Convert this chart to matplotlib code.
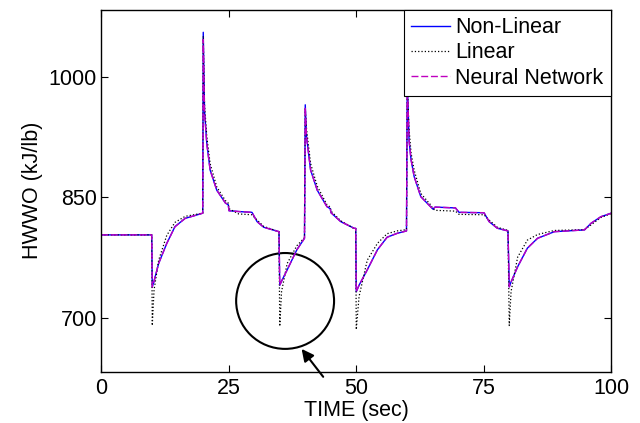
import numpy as np
import matplotlib
matplotlib.use('Agg')
import matplotlib.pyplot as plt
from matplotlib.patches import Ellipse

plt.rcParams['font.family'] = ['Liberation Sans', 'DejaVu Sans']

# time (sec)
time = [0, 9.95, 10.05, 10.4, 11.3, 12.9, 14.5, 16.5, 19.45, 19.95,
        20.05, 20.3, 20.75, 21.4, 22.7, 24.4, 24.95, 25.1, 27, 29.6, 30.6, 31.9, 34.9,
        35.05, 35.4, 36.5, 38.4, 39.9,
        40.05, 40.3, 41.1, 42.4, 44.3, 44.95, 45.1, 47, 49.6, 49.95,
        50.05, 50.6, 52.2, 54.2, 56.1, 58.1, 59.9,
        60.05, 60.4, 60.8, 61.4, 62.7, 64.6, 65.1, 65.5, 69.5, 70.2, 75.1, 76.1, 77.7, 79.8,
        80.05, 80.4, 81.7, 83.6, 85.6, 88.9, 94.8, 96.1, 98, 100]

nonlinear = [803.5, 803.5, 739, 746, 768, 793, 813.8, 824, 829.5, 830.5,
             1055, 957, 917, 884, 859, 843, 841, 833.5, 832.5, 831.5, 820, 813, 807.5,
             741, 746, 760, 785, 799.3,
             965, 925.5, 884, 859, 838.6, 836, 831, 820, 811.8, 811.5,
             733, 741, 760, 785, 800.6, 805.5, 808.4,
             998, 921, 896.6, 876, 851, 838.6, 835.4, 838, 837, 831.5, 831, 820, 811.8, 808.4,
             739, 745, 764, 787, 799.3, 807.5, 809.7, 818, 826, 830.4]

linear = [803.5, 803.5, 691, 735, 772, 803, 819, 826.5, 830, 830.5,
          1050, 965, 925, 892, 863, 846, 843, 836, 829.5, 828.5, 822, 814, 807.5,
          690, 733, 768, 790, 800,
          960, 935, 892, 864, 841, 838, 833, 821, 811.5, 811.5,
          686, 727, 772, 793, 805, 808.5, 810,
          990, 935, 905, 884, 855, 841, 836, 834, 833, 829, 828.5, 822, 813, 809,
          691, 733, 776, 797, 804, 809, 810, 816, 825, 830]

neural = [803.5, 803.5, 739, 746, 768, 793, 813.5, 824, 829.5, 830.5,
          1046, 955, 916, 884, 859, 843, 841, 833.5, 832.5, 831.5, 820, 813, 807.5,
          741, 746, 760, 785, 799.3,
          962, 925, 884, 859, 838.6, 836, 831, 820, 811.8, 811.5,
          733, 741, 760, 785, 800.6, 805.5, 808.4,
          995, 921, 896.6, 876, 851, 838.6, 835.4, 838, 837, 831.5, 831, 820, 811.8, 808.4,
          739, 745, 764, 787, 799.3, 807.5, 809.7, 818, 826, 830.4]

xticks = [0, 25, 50, 75, 100]
yticks = [700, 850, 1000]

fig = plt.figure(figsize=(6.4, 4.23), dpi=100)
ax = fig.add_axes([101/640, 1 - 372/423, 510/640, 362.5/423])

ax.plot(time, nonlinear, color='b', lw=1.0, label='Non-Linear')
ax.plot(time, linear, color='k', ls=':', lw=0.9, label='Linear')
ax.plot(time, neural, color='m', ls='--', lw=1.0, dashes=(5, 2), label='Neural Network')

ax.set_xlim(0, 100)
ax.set_ylim(633.3, 1083.3)
ax.set_xticks(xticks)
ax.set_yticks(yticks)
ax.tick_params(direction='in', top=True, right=True, length=5, labelsize=15.5)
ax.tick_params(axis='x', pad=4)
ax.tick_params(axis='y', pad=3)
for s in ax.spines.values():
    s.set_linewidth(1.0)

ax.set_xlabel('TIME (sec)', fontsize=15.5, labelpad=1)
ax.set_ylabel('HWWO (kJ/lb)', fontsize=15.5, labelpad=4)

leg = ax.legend(loc='upper right', borderaxespad=0, fancybox=False, edgecolor='k',
                framealpha=1, handlelength=1.8, handletextpad=0.25, borderpad=0.35,
                labelspacing=0.2, fontsize=15.5)
leg.get_frame().set_linewidth(0.8)

# circle + arrow pointing at the linear undershoot
ax.add_patch(Ellipse((36.1, 721.5), 19.2, 119, fill=False, ec='k', lw=1.5, clip_on=False))
ax.annotate('', xy=(39.0, 664.7), xytext=(43.9, 624.6), annotation_clip=False,
            arrowprops=dict(arrowstyle='-|>', color='k', lw=1.5, mutation_scale=18))

plt.savefig('out.png', dpi=100)
